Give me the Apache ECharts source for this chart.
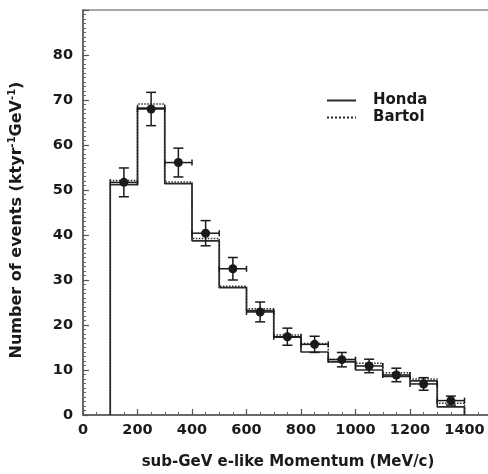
<!DOCTYPE html>
<html>
<head>
<meta charset="utf-8">
<script src="https://cdn.jsdelivr.net/npm/echarts@6/dist/echarts.min.js"></script>
<style>
  html, body { margin: 0; padding: 0; background: #fff; }
  #chart { width: 488px; height: 474px; }
</style>
</head>
<body>
<div id="chart"></div>
<script>
// Momentum bin edges (MeV/c)
const binEdges = [100, 200, 300, 400, 500, 600, 700, 800, 900, 1000, 1100, 1200, 1300, 1400];
// Monte Carlo expectations per bin (ktyr^-1 GeV^-1)
const honda  = [51.2, 68.2, 51.4, 38.7, 28.3, 23.2, 17.3, 14.0, 11.8, 10.0, 8.6, 7.6, 1.8];
const bartol = [52.1, 69.1, 51.8, 39.2, 28.6, 23.6, 17.8, 15.9, 12.4, 11.5, 9.4, 8.0, 2.6];
// Observed event rate and its statistical error
const observed = [51.7, 68.0, 56.1, 40.4, 32.5, 22.9, 17.4, 15.7, 12.3, 10.9, 8.9, 6.9, 3.2];
const obsError = [3.2, 3.7, 3.2, 2.8, 2.5, 2.2, 1.9, 1.8, 1.6, 1.5, 1.5, 1.4, 1.0];
// Axis tick settings
const xTicks = { min: 0, max: 1600, interval: 200 };
const yTicks = { min: 0, max: 90, interval: 10 };

const FONT = 'DejaVu Sans';
const INK = '#1a1a1a';
const CLEAR = 'rgba(0,0,0,0)';

// Turn per-bin values into a closed step outline
function histogramOutline(vals) {
  const pts = [[binEdges[0], 0]];
  vals.forEach((v, i) => {
    pts.push([binEdges[i], v]);
    pts.push([binEdges[i + 1], v]);
  });
  pts.push([binEdges[binEdges.length - 1], 0]);
  return pts;
}

const points = observed.map((v, i) => {
  const lo = binEdges[i], hi = binEdges[i + 1];
  return [(lo + hi) / 2, v, obsError[i], (hi - lo) / 2];
});

const chart = echarts.init(document.getElementById('chart'), null, { renderer: 'canvas' });

const tickLabel = {
  fontFamily: FONT, fontWeight: 'bold', fontSize: 14.5, color: INK,
  formatter: (v) => String(v)
};

chart.setOption({
  animation: false,
  backgroundColor: '#fff',
  grid: {
    left: 83, top: 10, right: -31, bottom: 59,
    outerBoundsMode: 'none',
    containLabel: false,
    show: true, borderColor: '#8a8a8a', borderWidth: 1.5, backgroundColor: 'transparent'
  },
  legend: {
    data: ['Honda', 'Bartol'],
    orient: 'vertical',
    left: 326, top: 93,
    padding: 0,
    itemWidth: 29, itemHeight: 14, itemGap: 2,
    itemStyle: { color: CLEAR, borderWidth: 0, opacity: 0 },
    textStyle: { fontFamily: FONT, fontWeight: 'bold', fontSize: 15, color: INK, padding: [0, 0, 0, 12] }
  },
  xAxis: {
    type: 'value',
    min: xTicks.min, max: xTicks.max, interval: xTicks.interval,
    axisLine: { lineStyle: { color: '#555', width: 1.5 } },
    axisTick: { inside: true, length: 6, lineStyle: { color: '#555', width: 1.2 } },
    minorTick: { show: true, splitNumber: 4, length: 3, lineStyle: { color: '#666', width: 1 } },
    splitLine: { show: false },
    axisLabel: Object.assign({ margin: 8 }, tickLabel)
  },
  yAxis: {
    type: 'value',
    min: yTicks.min, max: yTicks.max, interval: yTicks.interval,
    axisLine: { show: true, lineStyle: { color: '#555', width: 1.5 } },
    axisTick: { show: true, inside: true, length: 6, lineStyle: { color: '#555', width: 1.2 } },
    minorTick: { show: true, splitNumber: 10, length: 3, lineStyle: { color: '#666', width: 1 } },
    splitLine: { show: false },
    axisLabel: Object.assign({ margin: 10, showMaxLabel: false }, tickLabel)
  },
  graphic: [
    {
      type: 'text', x: 288, y: 462,
      style: {
        text: 'sub-GeV e-like Momentum (MeV/c)',
        fontFamily: FONT, fontWeight: 'bold', fontSize: 15, fill: INK,
        align: 'center', verticalAlign: 'middle'
      }
    },
    {
      type: 'text', x: 17, y: 220, rotation: Math.PI / 2,
      style: {
        text: '{a|Number of events (ktyr}{s|-1}{a|GeV}{s|-1}{a|)}',
        align: 'center', verticalAlign: 'middle',
        rich: {
          a: { fontFamily: FONT, fontWeight: 'bold', fontSize: 16, fill: INK },
          s: { fontFamily: FONT, fontWeight: 'bold', fontSize: 10, fill: INK, padding: [0, 0, 10, 0] }
        }
      }
    }
  ],
  series: [
    {
      name: 'Honda', type: 'line',
      data: histogramOutline(honda),
      symbol: 'none',
      lineStyle: { color: '#2a2a2a', width: 1.7, type: 'solid' },
      itemStyle: { color: CLEAR, borderWidth: 0 },
      z: 2
    },
    {
      name: 'Bartol', type: 'line',
      data: histogramOutline(bartol),
      symbol: 'none',
      lineStyle: { color: '#2a2a2a', width: 1.5, type: 'dotted' },
      itemStyle: { color: CLEAR, borderWidth: 0 },
      z: 2
    },
    {
      name: 'Data', type: 'custom',
      data: points,
      encode: { x: 0, y: 1 },
      z: 5,
      renderItem: function (params, api) {
        const x = api.value(0), y = api.value(1), e = api.value(2), h = api.value(3);
        const c = api.coord([x, y]);
        const t = api.coord([x, y + e]);
        const b = api.coord([x, y - e]);
        const l = api.coord([x - h, y]);
        const r = api.coord([x + h, y]);
        const st = { stroke: INK, lineWidth: 1.5, fill: null };
        const cap = 5, endCap = 3;
        return {
          type: 'group',
          children: [
            { type: 'line', shape: { x1: c[0], y1: t[1], x2: c[0], y2: b[1] }, style: st },
            { type: 'line', shape: { x1: c[0] - cap, y1: t[1], x2: c[0] + cap, y2: t[1] }, style: st },
            { type: 'line', shape: { x1: c[0] - cap, y1: b[1], x2: c[0] + cap, y2: b[1] }, style: st },
            { type: 'line', shape: { x1: l[0], y1: c[1], x2: r[0], y2: c[1] }, style: st },
            { type: 'line', shape: { x1: l[0], y1: c[1] - endCap, x2: l[0], y2: c[1] + endCap }, style: st },
            { type: 'line', shape: { x1: r[0], y1: c[1] - endCap, x2: r[0], y2: c[1] + endCap }, style: st },
            { type: 'circle', shape: { cx: c[0], cy: c[1], r: 4.5 }, style: { fill: INK } }
          ]
        };
      }
    }
  ]
});
</script>
</body>
</html>
